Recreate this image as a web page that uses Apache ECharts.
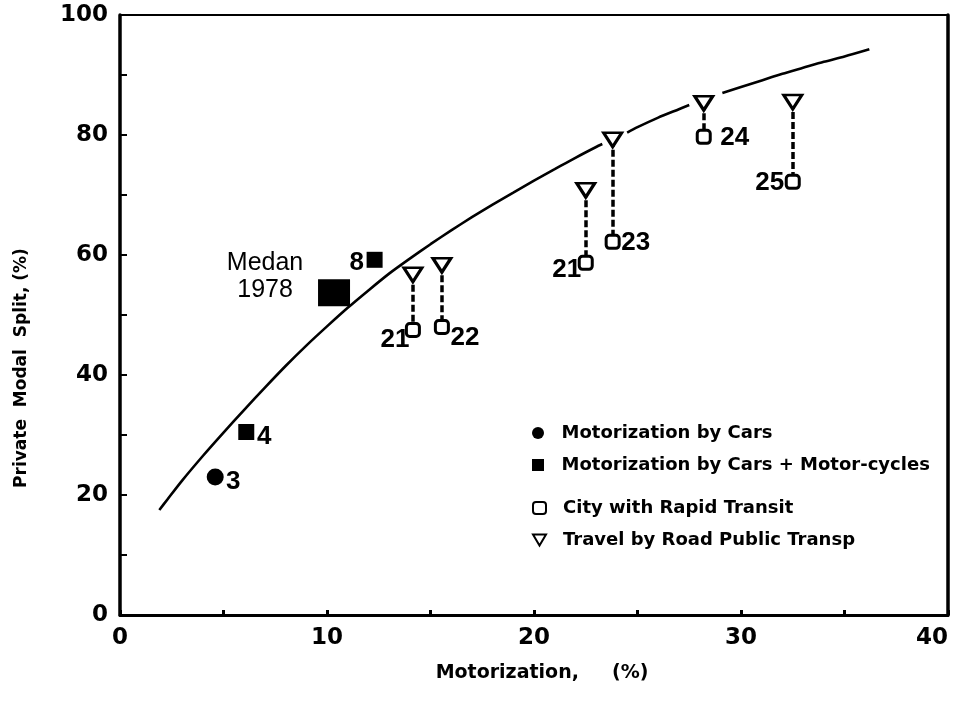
<!DOCTYPE html>
<html>
<head>
<meta charset="utf-8">
<script src="https://cdn.jsdelivr.net/npm/echarts@6/dist/echarts.min.js"></script>
<style>
html,body{margin:0;padding:0;background:#fff;}
#chart{width:954px;height:701px;}
</style>
</head>
<body>
<div id="chart"></div>
<script>
// ---- data ----
const xTicks = [0, 10, 20, 30, 40];
const yTicks = [0, 20, 40, 60, 80, 100];

// fitted trend curve (x = motorization %, y = private modal split %); '-' = break in the drawn line
const curveX = [1.9, 2.3, 3, 4, 5, 6, 7, 8, 9, 10, 11, 12, 13, 14, 15, 16, 17, 18, 19, 20, 21, 22, 23, 23.3, '-', 24.5, 25, 26, 27, 27.5, '-', 29.1, 30, 31, 32, 33, 34, 35, 36.2];
const curveY = [17.5, 19.3, 22.4, 26.5, 30.4, 34.2, 37.9, 41.5, 44.9, 48.1, 51.2, 54.1, 56.9, 59.4, 61.8, 64.1, 66.3, 68.4, 70.4, 72.4, 74.3, 76.2, 78.0, 78.5, '-', 80.4, 81.3, 82.9, 84.3, 85.0, '-', 87.0, 88.0, 89.1, 90.2, 91.2, 92.2, 93.1, 94.3];

// Motorization by Cars
const carsX = [4.6];
const carsY = [23];
const carsLabels = ['3'];

// Motorization by Cars + Motor-cycles
const cmX = [6.1, 12.3];
const cmY = [30.5, 59.2];
const cmLabels = ['4', '8'];
const medanX = 10.34;
const medanY = 53.7;
const medanLabel = 'Medan\n1978';

// paired cities: rapid transit (square) and road public transport (triangle)
const pairX = [14.15, 15.55, 22.5, 23.8, 28.2, 32.5];
const roadY = [56.7, 58.3, 70.8, 79.2, 85.3, 85.5];
const rapidY = [47.5, 48.0, 58.7, 62.2, 79.7, 72.2];
const pairLabels = ['21', '22', '21', '23', '24', '25'];

const seriesNames = ['Motorization by Cars', 'Motorization by Cars + Motor-cycles', 'City with Rapid Transit', 'Travel by Road Public Transp'];

// ---- styling / layout ----
const numFont = 'Liberation Sans, Arial, sans-serif';
const tickFont = 'DejaVu Sans, sans-serif';
const triPath = 'path://M0,0 L10,0 L5,8.5 Z';

const curveData = curveX.map((x, i) => [x, curveY[i]]);

const carsOffsets = [[18, 5]];
const cmOffsets = [[18, 5], [-18, 3]];
const pairOffsets = [[-18, 10], [23, 11], [-19, 7], [23, 1], [31, 1], [-23, 1]];

function lbl(text, off, extra) {
  return Object.assign({
    show: true, position: 'inside', offset: off, formatter: text,
    color: '#000', fontFamily: numFont, fontWeight: 'bold', fontSize: 26,
    align: 'center', verticalAlign: 'middle'
  }, extra || {});
}

const carsData = carsX.map((x, i) => ({ value: [x, carsY[i]], label: lbl(carsLabels[i], carsOffsets[i]) }));
const cmData = cmX.map((x, i) => ({ value: [x, cmY[i]], label: lbl(cmLabels[i], cmOffsets[i]) }));
cmData.push({
  value: [medanX, medanY], symbolSize: [32, 27],
  label: lbl(medanLabel, [-69, -16], { fontWeight: 'normal', fontSize: 25, lineHeight: 27 })
});
const rapidData = pairX.map((x, i) => ({ value: [x, rapidY[i]], label: lbl(pairLabels[i], pairOffsets[i]) }));
const roadData = pairX.map((x, i) => [x, roadY[i]]);
const linkData = pairX.map((x, i) => ({ coords: [[x, roadY[i]], [x, rapidY[i]]] }));

const chart = echarts.init(document.getElementById('chart'), null, { renderer: 'canvas' });

const legendText = { color: '#000', fontFamily: tickFont, fontWeight: 'bold', fontSize: 18, padding: [0, 0, 0, 12] };

chart.setOption({
  backgroundColor: '#fff',
  animation: false,
  grid: { left: 120, right: 6, top: 15, bottom: 86, containLabel: false, outerBoundsMode: 'none' },
  xAxis: [{
    type: 'value', min: 0, max: 40, interval: 5, position: 'bottom',
    name: 'Motorization,     (%)', nameLocation: 'middle', nameGap: 49,
    nameTextStyle: { color: '#000', fontFamily: tickFont, fontWeight: 'bold', fontSize: 19, padding: [0, 0, 0, 16] },
    axisLine: { show: true, onZero: false, lineStyle: { color: '#000', width: 3 } },
    axisTick: { show: true, inside: true, length: 5, lineStyle: { color: '#000', width: 3 } },
    axisLabel: {
      margin: 12, color: '#000', fontFamily: tickFont, fontWeight: 'bold', fontSize: 23,
      alignMaxLabel: 'right',
      formatter: v => (xTicks.indexOf(v) >= 0 ? String(v) : '')
    },
    splitLine: { show: false }
  }, {
    type: 'value', min: 0, max: 40, position: 'top',
    axisLine: { show: true, onZero: false, lineStyle: { color: '#000', width: 2 } },
    axisTick: { show: false }, axisLabel: { show: false }, splitLine: { show: false }
  }],
  yAxis: [{
    type: 'value', min: 0, max: 100, interval: 10, position: 'left',
    axisLine: { show: true, onZero: false, lineStyle: { color: '#000', width: 3.5 } },
    axisTick: { show: true, inside: true, length: 7, lineStyle: { color: '#000', width: 2 } },
    axisLabel: {
      margin: 12, color: '#000', fontFamily: tickFont, fontWeight: 'bold', fontSize: 23,
      formatter: v => (yTicks.indexOf(v) >= 0 ? String(v) : '')
    },
    splitLine: { show: false }
  }, {
    type: 'value', min: 0, max: 100, position: 'right',
    axisLine: { show: true, onZero: false, lineStyle: { color: '#000', width: 3.5 } },
    axisTick: { show: false }, axisLabel: { show: false }, splitLine: { show: false }
  }],
  graphic: [{
    type: 'text', x: 22, y: 368, rotation: Math.PI / 2,
    style: {
      text: 'Private  Modal  Split, (%)', fill: '#000',
      font: 'bold 17px "DejaVu Sans", sans-serif', align: 'center', verticalAlign: 'middle'
    }
  }],
  legend: [{
    orient: 'vertical', left: 527, top: 418, itemWidth: 13, itemHeight: 12, itemGap: 12,
    selectedMode: false, textStyle: Object.assign({ lineHeight: 20 }, legendText),
    data: [
      { name: seriesNames[0], icon: 'circle' },
      { name: seriesNames[1], icon: 'path://M0,0h10v10h-10z' }
    ]
  }, {
    orient: 'vertical', left: 527, top: 493, itemWidth: 13, itemHeight: 12, itemGap: 12,
    selectedMode: false, textStyle: Object.assign({ lineHeight: 20 }, legendText),
    data: [
      { name: seriesNames[2], icon: 'roundRect' },
      { name: seriesNames[3], icon: triPath }
    ]
  }],
  series: [{
    type: 'line', name: 'trend', data: curveData, smooth: 0.25,
    showSymbol: false, connectNulls: false, silent: true,
    lineStyle: { color: '#000', width: 2.6 }, z: 2
  }, {
    type: 'lines', coordinateSystem: 'cartesian2d', data: linkData, silent: true,
    lineStyle: { color: '#000', width: 3.5, type: [7, 3], opacity: 1 }, z: 2
  }, {
    type: 'scatter', name: seriesNames[0], data: carsData, symbol: 'circle', symbolSize: 17,
    itemStyle: { color: '#000', opacity: 1 }, z: 5
  }, {
    type: 'scatter', name: seriesNames[1], data: cmData, symbol: 'rect', symbolSize: 16,
    itemStyle: { color: '#000', opacity: 1 }, z: 5
  }, {
    type: 'scatter', name: seriesNames[2], data: rapidData, symbol: 'roundRect', symbolSize: [13, 13],
    itemStyle: { color: '#fff', borderColor: '#000', borderWidth: 3, opacity: 1 }, z: 6
  }, {
    type: 'scatter', name: seriesNames[3], data: roadData, symbol: triPath, symbolSize: [18, 14],
    itemStyle: { color: '#fff', borderColor: '#000', borderWidth: 3, opacity: 1 }, z: 6
  }]
});
</script>
</body>
</html>
